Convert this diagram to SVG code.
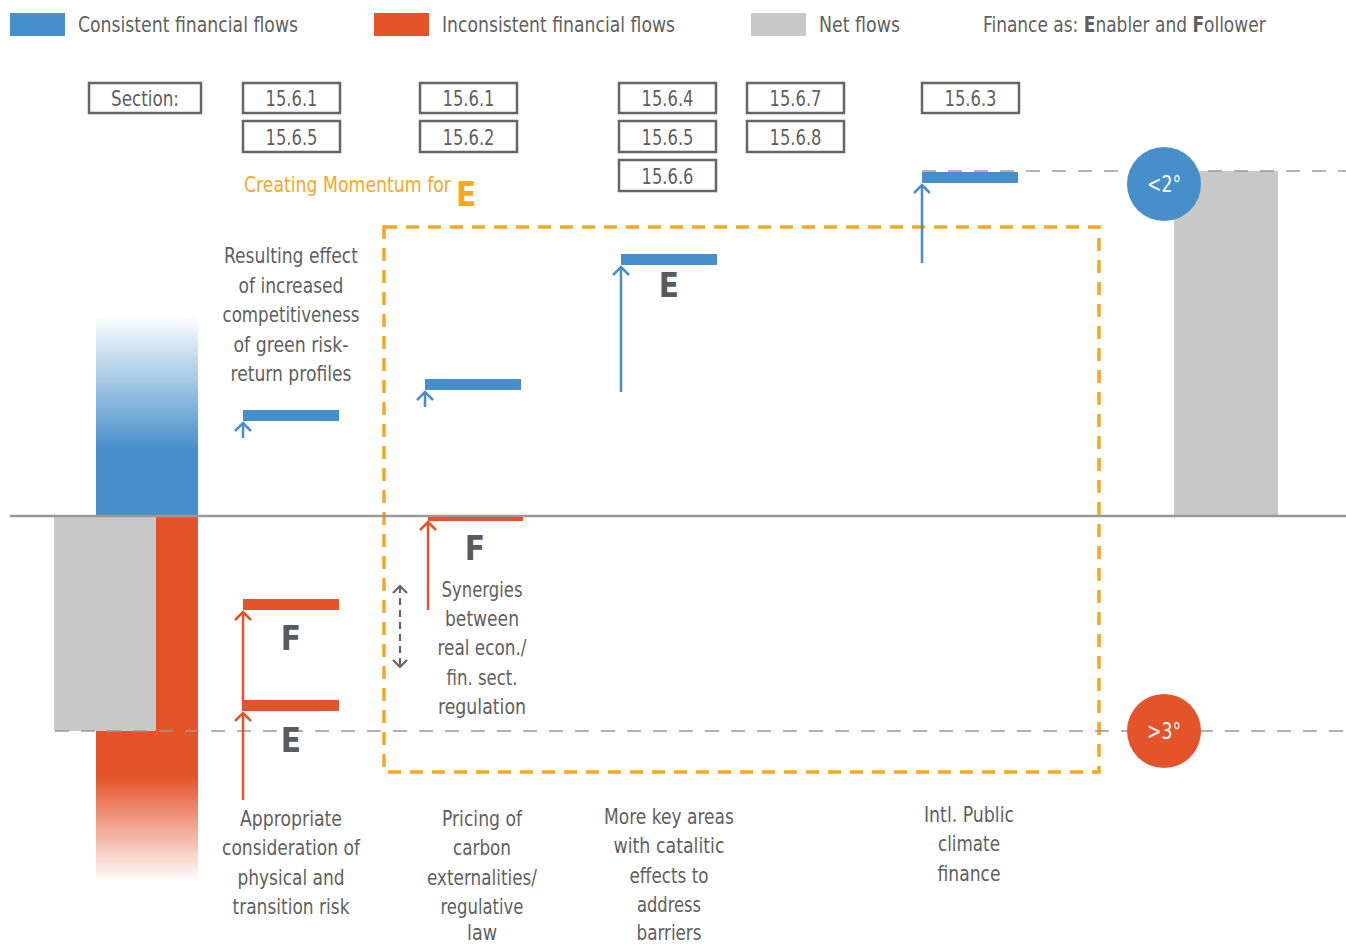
<svg xmlns="http://www.w3.org/2000/svg" width="1346" height="944" viewBox="0 0 1346 944">
<style>
text{font-family:"Liberation Sans Narrow","DejaVu Sans Condensed","Liberation Sans",sans-serif;fill:#5f5f5f;font-size:22px}
.c{text-anchor:middle}
.b{font-weight:bold}
.box rect{fill:#fff;stroke:#666;stroke-width:2.5}
.big{font-weight:bold;font-size:33px;fill:#5a5a5a}
.blue{fill:#478FCA}
.orange{fill:#E4532A}
.grey{fill:#C8C8C8}
.white{fill:#fff;font-size:23px}
</style>
<defs>
<linearGradient id="gb" x1="0" y1="315" x2="0" y2="516" gradientUnits="userSpaceOnUse">
<stop offset="0" stop-color="#478FCA" stop-opacity="0"/>
<stop offset="0.67" stop-color="#478FCA" stop-opacity="1"/>
<stop offset="1" stop-color="#478FCA"/>
</linearGradient>
<linearGradient id="go" x1="0" y1="731" x2="0" y2="882" gradientUnits="userSpaceOnUse">
<stop offset="0" stop-color="#E4532A"/>
<stop offset="0.3" stop-color="#E4532A"/>
<stop offset="1" stop-color="#E4532A" stop-opacity="0"/>
</linearGradient>
<marker id="ab" viewBox="-10 -10 20 20" refX="0" refY="0" markerWidth="20" markerHeight="20" markerUnits="userSpaceOnUse" orient="auto"><path d="M-8,-8 L0,0 L-8,8" fill="none" stroke="#478FCA" stroke-width="2.5"/></marker>
<marker id="ao" viewBox="-10 -10 20 20" refX="0" refY="0" markerWidth="20" markerHeight="20" markerUnits="userSpaceOnUse" orient="auto"><path d="M-8,-8 L0,0 L-8,8" fill="none" stroke="#E4532A" stroke-width="2.5"/></marker>
<marker id="ag" viewBox="-10 -10 20 20" refX="0" refY="0" markerWidth="20" markerHeight="20" markerUnits="userSpaceOnUse" orient="auto-start-reverse"><path d="M-7,-7 L0,0 L-7,7" fill="none" stroke="#666" stroke-width="2.2"/></marker>
</defs>
<rect width="1346" height="944" fill="#fff"/>

<g id="legend">
<rect x="10" y="13" width="55" height="23" class="blue"/>
<text x="78" y="32" textLength="220" lengthAdjust="spacingAndGlyphs">Consistent financial flows</text>
<rect x="374" y="13" width="55" height="23" class="orange"/>
<text x="442" y="32" textLength="233" lengthAdjust="spacingAndGlyphs">Inconsistent financial flows</text>
<rect x="751" y="13" width="55" height="23" class="grey"/>
<text x="819" y="32" textLength="81" lengthAdjust="spacingAndGlyphs">Net flows</text>
<text transform="translate(983,32) scale(0.86,1)" x="0" y="0">Finance as: <tspan class="b">E</tspan>nabler and <tspan class="b">F</tspan>ollower</text>
</g>

<g id="sections" class="box">
<rect x="89" y="83" width="112" height="30"/><text class="c" x="145" y="106" textLength="68" lengthAdjust="spacingAndGlyphs">Section:</text>
<rect x="243" y="83" width="97" height="30"/><text class="c" x="291.5" y="106" textLength="52" lengthAdjust="spacingAndGlyphs">15.6.1</text>
<rect x="243" y="121" width="97" height="31"/><text class="c" x="291.5" y="145" textLength="52" lengthAdjust="spacingAndGlyphs">15.6.5</text>
<rect x="420" y="83" width="97" height="30"/><text class="c" x="468.5" y="106" textLength="52" lengthAdjust="spacingAndGlyphs">15.6.1</text>
<rect x="420" y="121" width="97" height="31"/><text class="c" x="468.5" y="145" textLength="52" lengthAdjust="spacingAndGlyphs">15.6.2</text>
<rect x="619" y="83" width="97" height="30"/><text class="c" x="667.5" y="106" textLength="52" lengthAdjust="spacingAndGlyphs">15.6.4</text>
<rect x="619" y="121" width="97" height="31"/><text class="c" x="667.5" y="145" textLength="52" lengthAdjust="spacingAndGlyphs">15.6.5</text>
<rect x="619" y="160" width="97" height="31"/><text class="c" x="667.5" y="184" textLength="52" lengthAdjust="spacingAndGlyphs">15.6.6</text>
<rect x="747" y="83" width="97" height="30"/><text class="c" x="795.5" y="106" textLength="52" lengthAdjust="spacingAndGlyphs">15.6.7</text>
<rect x="747" y="121" width="97" height="31"/><text class="c" x="795.5" y="145" textLength="52" lengthAdjust="spacingAndGlyphs">15.6.8</text>
<rect x="922" y="83" width="97" height="30"/><text class="c" x="970.5" y="106" textLength="52" lengthAdjust="spacingAndGlyphs">15.6.3</text>
</g>

<g id="momentum">
<rect x="384" y="227" width="715" height="545" fill="none" stroke="#F7A823" stroke-width="3.5" stroke-dasharray="13,9"/>
<text transform="translate(244,192) scale(0.875,1)" x="0" y="0" style="fill:#F7A823">Creating Momentum for</text>
<text x="456" y="206" class="big" style="fill:#F7A823">E</text>
</g>

<g id="left-bars">
<rect x="96" y="315" width="102" height="201" fill="url(#gb)"/>
<rect x="54" y="516" width="102" height="215" class="grey"/>
<rect x="156" y="516" width="42" height="215" class="orange"/>
<rect x="96" y="731" width="102" height="151" fill="url(#go)"/>
</g>

<g id="right-bar">
<rect x="1174" y="171" width="104" height="345" class="grey"/>
</g>

<g id="axes" fill="none">
<line x1="10" y1="516" x2="1346" y2="516" stroke="#999" stroke-width="2.5"/>
<line x1="922" y1="171" x2="1346" y2="171" stroke="#999" stroke-width="1.5" stroke-dasharray="14,12"/>
<line x1="55" y1="731" x2="1346" y2="731" stroke="#999" stroke-width="1.5" stroke-dasharray="14,12"/>
</g>

<g id="flow1">
<rect x="243" y="410" width="96" height="11" class="blue"/>
<rect x="243" y="599" width="96" height="11" class="orange"/>
<rect x="243" y="700" width="96" height="11" class="orange"/>
<text class="big c" x="291" y="650">F</text>
<text class="big c" x="291" y="752">E</text>
<text class="c" x="291" y="263" textLength="134" lengthAdjust="spacingAndGlyphs">Resulting effect</text>
<text class="c" x="291" y="293" textLength="105" lengthAdjust="spacingAndGlyphs">of increased</text>
<text class="c" x="291" y="322" textLength="137" lengthAdjust="spacingAndGlyphs">competitiveness</text>
<text class="c" x="291" y="352" textLength="115" lengthAdjust="spacingAndGlyphs">of green risk-</text>
<text class="c" x="291" y="381" textLength="121" lengthAdjust="spacingAndGlyphs">return profiles</text>
<text class="c" x="291" y="826" textLength="102" lengthAdjust="spacingAndGlyphs">Appropriate</text>
<text class="c" x="291" y="855" textLength="138" lengthAdjust="spacingAndGlyphs">consideration of</text>
<text class="c" x="291" y="885" textLength="107" lengthAdjust="spacingAndGlyphs">physical and</text>
<text class="c" x="291" y="914" textLength="117" lengthAdjust="spacingAndGlyphs">transition risk</text>
</g>

<g id="flow2">
<rect x="425" y="379" width="96" height="11" class="blue"/>
<rect x="428" y="517" width="95" height="4" class="orange"/>
<text class="big c" x="475" y="560">F</text>
<text class="c" x="482" y="597" textLength="81" lengthAdjust="spacingAndGlyphs">Synergies</text>
<text class="c" x="482" y="626" textLength="74" lengthAdjust="spacingAndGlyphs">between</text>
<text class="c" x="482" y="655" textLength="89" lengthAdjust="spacingAndGlyphs">real econ./</text>
<text class="c" x="482" y="685" textLength="71" lengthAdjust="spacingAndGlyphs">fin. sect.</text>
<text class="c" x="482" y="714" textLength="88" lengthAdjust="spacingAndGlyphs">regulation</text>
<text class="c" x="482" y="826" textLength="80" lengthAdjust="spacingAndGlyphs">Pricing of</text>
<text class="c" x="482" y="855" textLength="58" lengthAdjust="spacingAndGlyphs">carbon</text>
<text class="c" x="482" y="885" textLength="110" lengthAdjust="spacingAndGlyphs">externalities/</text>
<text class="c" x="482" y="914" textLength="83" lengthAdjust="spacingAndGlyphs">regulative</text>
<text class="c" x="482" y="940" textLength="30" lengthAdjust="spacingAndGlyphs">law</text>
</g>

<g id="flow3">
<rect x="621" y="254" width="96" height="11" class="blue"/>
<text class="big c" x="669" y="297">E</text>
<text class="c" x="669" y="824" textLength="130" lengthAdjust="spacingAndGlyphs">More key areas</text>
<text class="c" x="669" y="853" textLength="111" lengthAdjust="spacingAndGlyphs">with catalitic</text>
<text class="c" x="669" y="883" textLength="79" lengthAdjust="spacingAndGlyphs">effects to</text>
<text class="c" x="669" y="912" textLength="64" lengthAdjust="spacingAndGlyphs">address</text>
<text class="c" x="669" y="940" textLength="65" lengthAdjust="spacingAndGlyphs">barriers</text>
</g>

<g id="flow4">
<rect x="922" y="172" width="96" height="11" class="blue"/>
<text class="c" x="969" y="822" textLength="90" lengthAdjust="spacingAndGlyphs">Intl. Public</text>
<text class="c" x="969" y="851" textLength="62" lengthAdjust="spacingAndGlyphs">climate</text>
<text class="c" x="969" y="881" textLength="63" lengthAdjust="spacingAndGlyphs">finance</text>
</g>

<g id="connectors" fill="none" stroke-width="2.5">
<path d="M243,438 V423" stroke="#478FCA" marker-end="url(#ab)"/>
<path d="M425,407 V392" stroke="#478FCA" marker-end="url(#ab)"/>
<path d="M621,392 V267" stroke="#478FCA" marker-end="url(#ab)"/>
<path d="M922,263 V185" stroke="#478FCA" marker-end="url(#ab)"/>
<path d="M243,800 V713" stroke="#E4532A" marker-end="url(#ao)"/>
<path d="M243,711 V612" stroke="#E4532A" marker-end="url(#ao)"/>
<path d="M428,610 V522" stroke="#E4532A" marker-end="url(#ao)"/>
<path d="M400,586 V667" stroke="#666" stroke-width="2.2" stroke-dasharray="7,5" marker-start="url(#ag)" marker-end="url(#ag)"/>
</g>

<g id="target-2">
<circle cx="1164" cy="184" r="37" class="blue"/>
<text class="c white" x="1164" y="192" textLength="34" lengthAdjust="spacingAndGlyphs">&lt;2°</text>
</g>
<g id="target-3">
<circle cx="1164" cy="731" r="37" class="orange"/>
<text class="c white" x="1164" y="739" textLength="34" lengthAdjust="spacingAndGlyphs">&gt;3°</text>
</g>
</svg>
